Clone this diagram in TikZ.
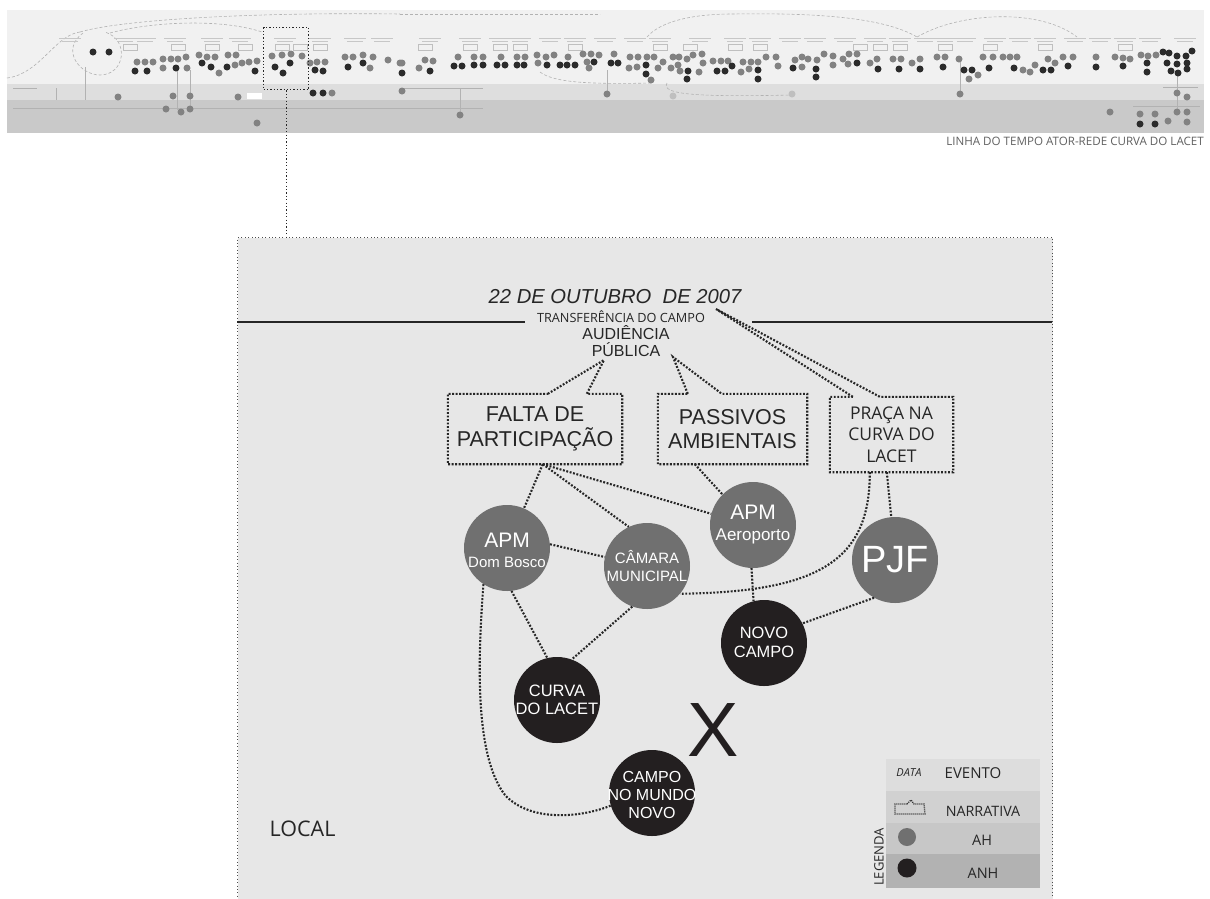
\documentclass[tikz,border=0pt]{standalone}
\usepackage{fontspec}
\setmainfont{Liberation Sans}
\newfontfamily\segoe{Open Sans}
\definecolor{panelbg}{HTML}{E7E7E7}
\definecolor{ahgray}{HTML}{707070}
\definecolor{anhblack}{HTML}{231F20}
\definecolor{inkdark}{HTML}{262626}
\definecolor{bandA}{HTML}{F1F1F1}
\definecolor{bandB}{HTML}{DEDEDE}
\definecolor{bandC}{HTML}{C9C9C9}
\definecolor{miniah}{HTML}{828282}
\definecolor{minianh}{HTML}{2B2B2B}
\definecolor{legA}{HTML}{DDDDDD}
\definecolor{legB}{HTML}{D1D1D1}
\definecolor{legC}{HTML}{C7C7C7}
\definecolor{legD}{HTML}{B2B2B2}
\tikzset{
  ah/.style={circle, fill=ahgray, minimum size=86pt, inner sep=0pt},
  anh/.style={circle, fill=anhblack, minimum size=86pt, inner sep=0pt},
  incircle/.style={text=white, align=center, inner sep=0pt},
  link/.style={draw=inkdark, line width=2.1pt, dash pattern=on 1.9pt off 1.6pt},
  narr/.style={draw=inkdark, line width=2.1pt, dash pattern=on 1.9pt off 1.6pt, line join=miter},
  narrbox/.style={draw=none, inner sep=0pt, align=center, text=inkdark},
  rulebar/.style={draw=inkdark, line width=2pt},
  thinlink/.style={draw=inkdark, line width=1.2pt, dash pattern=on 1.2pt off 2.2pt},
  legrow/.style={draw=none, inner sep=0pt, minimum width=154pt},
  minicurve/.style={draw=black!30, line width=0.6pt, dash pattern=on 3pt off 2pt},
  minitext/.style={draw=black!22, line width=0.6pt},
  minibox/.style={draw=black!25, line width=0.5pt},
  miniline/.style={draw=black!30, line width=0.5pt},
}
\begin{document}
\begin{tikzpicture}[x=1pt, y=-1pt]
\useasboundingbox (0,0) rectangle (1210,898);
\fill[white] (0,0) rectangle (1210,898);

% ---------- overview strip of the whole timeline ----------
\fill[bandA] (7,10) rectangle (1204,84);
\fill[bandB] (7,84) rectangle (1204,100);
\fill[bandC] (7,100) rectangle (1204,133);

% thin guide lines in the lower bands
\draw[miniline] (13,88) -- (37,88);
\draw[miniline] (13,108) -- (483,108);
\draw[miniline] (400,88) -- (483,88);
\draw[miniline] (1163,87) -- (1198,87);
\draw[miniline] (1133,106) -- (1200,106);
\draw[miniline] (85,67) -- (85,100);
\draw[miniline] (56,88) -- (56,100);
\draw[miniline] (177,70) -- (177,110);
\draw[miniline] (190,70) -- (190,108);
\draw[miniline] (460,88) -- (460,115);
\draw[miniline] (607,70) -- (607,94);
\draw[miniline] (960,60) -- (960,94);
\draw[miniline] (1177,75) -- (1177,112);
\fill[white] (247,93) rectangle (262,99);

% faint dashed links across the strip
\draw[minicurve] (7,78) .. controls (40,74) and (55,35) .. (80,32);
\draw[minicurve] (80,32) .. controls (120,20) and (250,12) .. (400,14);
\draw[minicurve] (83,33) .. controls (60,50) and (80,75) .. (100,75) .. controls (125,75) and (130,40) .. (105,32);
\draw[minicurve] (110,33) .. controls (150,22) and (220,18) .. (262,32);
\draw[minicurve] (647,37) .. controls (660,22) and (690,14) .. (733,14) .. controls (800,13) and (880,15) .. (917,37);
\draw[minicurve] (917,37) .. controls (960,12) and (1040,8) .. (1077,37);
\draw[minicurve] (540,72) .. controls (555,84) and (600,84) .. (653,83);
\draw[minicurve] (667,83) .. controls (660,95) and (700,97) .. (792,95);
\draw[minicurve] (400,14) -- (600,14);

% headings above the event clusters
\foreach \cx in {70,125,145,175,212,240,285,320,355,382,430,470,500,520,550,575,605,635,660,700,735,760,790,815,845,875,900,925,945,965,995,1020,1045,1075,1100,1125,1150,1185}{
  \draw[minitext] (\cx-11,38) -- (\cx+11,38);
  \draw[minitext] (\cx-8,41.5) -- (\cx+8,41.5);
}
\foreach \cx in {130,178,212,245,282,300,320,425,470,500,520,575,660,690,735,760,860,880,900,945,990,1045,1125}{
  \draw[minibox] (\cx-7,44) rectangle (\cx+7,50);
}

% human actors (grey) and non-human actors (black) of the strip
\foreach \px/\py in {137/62,145/62,153/62,163/59,171/59,178/59,186/57,163/68,187/68,199/55,207/57,215/57,228/55,236/55,219/73,235/65,242/63,249/62,257/61,
272/56,282/55,291/54,302/56,310/63,317/62,325/62,332/93,
345/57,353/57,363/55,373/57,370/68,388/60,400/63,
118/97,173/96,190/96,166/109,181/112,190/109,238/97,257/123,
402/63,425/60,433/61,419/68,458/57,474/57,483/57,501/57,517/57,525/57,537/55,546/57,554/55,538/63,568/57,583/54,591/54,599/55,587/62,589/68,614/54,630/57,638/57,647/57,654/57,629/68,637/67,651/80,658/68,663/62,673/57,679/57,687/59,693/55,702/54,671/68,678/65,680/71,699/72,703/63,713/61,721/61,728/61,743/62,751/62,758/62,766/57,741/72,749/69,776/57,778/66,795/60,
607/94,460/115,402/91,
802/57,802/67,808/59,817/60,824/54,833/56,833/65,843/59,849/54,857/54,848/64,870/63,877/59,893/59,901/59,912/63,920/59,937/57,945/57,959/59,969/79,978/75,983/57,993/57,1003/57,1010/57,1017/57,1023/70,1030/72,1035/65,1048/59,1055/63,1063/57,1073/57,1096/57,1115/57,1123/58,1130/59,1141/55,1148/56,1156/55,
960/94,1110/112,1177/93,1187/97,1140/114,1155/114,1177/112,1187/112,1168/121,1187/122}{
  \fill[miniah] (\px,\py) circle[radius=3.5pt];
}
\foreach \px/\py in {673/96,792/94}{
  \fill[black!25] (\px,\py) circle[radius=3.5pt];
}
\foreach \px/\py in {93/52,109/52,135/71,147/71,176/68,202/63,211/67,227/67,255/71,
290/63,275/67,283/73,315/70,323/71,313/93,323/93,348/67,363/63,
402/73,430/71,454/66,462/66,474/65,483/65,497/65,505/65,517/65,524/65,547/65,560/65,567/65,575/65,594/62,611/63,618/63,646/65,646/74,688/71,687/79,717/71,725/71,732/66,758/70,758/79,793/68,
816/69,816/77,857/63,878/69,899/69,920/69,943/67,964/70,972/70,989/68,1014/68,1043/70,1051/70,1068/66,1096/67,1123/66,1147/63,1147/72,1163/52,1169/53,1177/56,1186/56,1192/51,1167/63,1177/64,1187/63,1171/71,1178/73,1187/69,
1140/124,1155/124}{
  \fill[minianh] (\px,\py) circle[radius=3.5pt];
}

% frame around the event that is enlarged below
\node[draw=inkdark, line width=1.4pt, dash pattern=on 1.3pt off 2pt, minimum width=45pt, minimum height=62pt, inner sep=0pt, anchor=north west] (stripbox) at (263,27) {};

\node[font=\segoe\fontsize{11.6}{12}\selectfont, text=black!62, anchor=east, inner sep=0pt] (title) at (1204,141) {LINHA DO TEMPO ATOR-REDE CURVA DO LACET};

% ---------- enlarged event panel ----------
\node[fill=panelbg, draw=black!70, line width=1pt, dash pattern=on 1pt off 2.4pt, minimum width=815pt, minimum height=680pt, inner sep=0pt, anchor=north west] (panel) at (237,237) {};
\draw[thinlink] (stripbox.south) -- (stripbox.south |- panel.north);

% date and event
\node[font=\fontsize{20.2}{22}\selectfont\itshape, text=inkdark, inner sep=0pt] (date) at (615,297) {22 DE OUTUBRO~ DE 2007};
\draw[rulebar] (237,322) -- (525,322);
\draw[rulebar] (752,322) -- (1052,322);
\node[font=\segoe\fontsize{12.7}{14}\selectfont, text=inkdark, inner sep=0pt] (transf) at (621,317) {TRANSFERÊNCIA DO CAMPO};
\node[font=\fontsize{16}{17}\selectfont, text=inkdark, align=center, inner sep=0pt] (aud) at (626,341.5) {AUDIÊNCIA\\PÚBLICA};

% narratives
\coordinate (tfalta) at (604,360);
\coordinate (tpass) at (673,357);
\coordinate (tpraca) at (716,309);

\node[narrbox, font=\fontsize{21.5}{25}\selectfont, minimum width=174pt, minimum height=70pt] (falta) at (535,429) {FALTA DE\\PARTICIPAÇÃO};
\draw[narr] ([xshift=100pt]falta.north west) -- (tfalta) -- ([xshift=139pt]falta.north west) -- (falta.north east) -- (falta.south east) -- (falta.south west) -- (falta.north west) -- cycle;

\node[narrbox, font=\fontsize{21.5}{24}\selectfont, minimum width=149pt, minimum height=70pt] (pass) at (732.5,429) {PASSIVOS\\AMBIENTAIS};
\draw[narr] ([xshift=30pt]pass.north west) -- (tpass) -- ([xshift=64pt]pass.north west) -- (pass.north east) -- (pass.south east) -- (pass.south west) -- (pass.north west) -- cycle;

\node[narrbox, font=\segoe\fontsize{17.5}{21.5}\selectfont, minimum width=123pt, minimum height=75pt] (praca) at (891.5,434.5) {PRAÇA NA\\CURVA DO\\LACET};
\draw[narr] ([xshift=23pt]praca.north west) -- (tpraca) -- ([xshift=50pt]praca.north west) -- (praca.north east) -- (praca.south east) -- (praca.south west) -- (praca.north west) -- cycle;

% actors
\node[ah] (db) at (507,548) {};
\node[incircle, font=\fontsize{21}{22}\selectfont] (db-a) at (507,540) {APM};
\node[incircle, font=\fontsize{15}{16}\selectfont] (db-b) at (507,562) {Dom Bosco};

\node[ah] (cm) at (647,566) {};
\node[incircle, font=\fontsize{15}{18}\selectfont] (cm-a) at (647,566) {CÂMARA\\MUNICIPAL};

\node[ah] (apa) at (753,525) {};
\node[incircle, font=\fontsize{21}{22}\selectfont] (apa-a) at (753,512) {APM};
\node[incircle, font=\fontsize{17}{18}\selectfont] (apa-b) at (753,536) {Aeroporto};

\node[ah] (pjf) at (895,560) {};
\node[incircle, font=\fontsize{38}{40}\selectfont] (pjf-a) at (895,560) {PJF};

\node[anh] (nc) at (764,643) {};
\node[incircle, font=\fontsize{16.4}{19}\selectfont] (nc-a) at (764,642.5) {NOVO\\CAMPO};

\node[anh] (cl) at (557,700) {};
\node[incircle, font=\fontsize{16.5}{18}\selectfont] (cl-a) at (557,700) {CURVA\\DO LACET};

\node[anh] (cmn) at (652,793) {};
\node[incircle, font=\fontsize{16}{18}\selectfont] (cmn-a) at (652,795) {CAMPO\\NO MUNDO\\NOVO};

\node[font=\fontsize{77}{77}\selectfont, text=anhblack, inner sep=0pt] (xmark) at (713,730) {X};

% associations
\draw[link] ([xshift=95pt]falta.south west) -- (db);
\draw[link] ([xshift=95pt]falta.south west) -- (cm.115);
\draw[link] ([xshift=95pt]falta.south west) -- (apa.165);
\draw[link] ([xshift=37pt]pass.south west) -- (apa.135);
\draw[link] ([xshift=57pt]praca.south west) -- (pjf.95);
\draw[link] ([xshift=40pt]praca.south west) .. controls (870,560) and (820,592) .. (cm.-40);
\draw[link] (db.5) -- (cm.168);
\draw[link] (apa.268) -- (nc.104);
\draw[link] (pjf.241) -- (nc.27);
\draw[link] (cm.-110) -- (cl.70);
\draw[link] (db.-84) -- (cl.103);
\draw[link] (db.237) .. controls (476,680) and (478,760) .. (505,795) .. controls (530,822) and (580,818) .. (cmn.197);

\node[font=\segoe\fontsize{21.5}{22}\selectfont, text=inkdark, inner sep=0pt] (local) at (302.5,829) {LOCAL};

% legend
\node[legrow, fill=legA, minimum height=32pt] (row1) at (963,775) {};
\node[legrow, fill=legB, minimum height=32pt] (row2) at (963,807) {};
\node[legrow, fill=legC, minimum height=31pt] (row3) at (963,838.5) {};
\node[legrow, fill=legD, minimum height=34pt] (row4) at (963,871) {};
\node[font=\segoe\fontsize{11}{12}\selectfont\itshape, text=inkdark, inner sep=0pt] (ldata) at (909,773) {DATA};
\node[font=\segoe\fontsize{15}{16}\selectfont, text=inkdark, inner sep=0pt] (levento) at (973,773) {EVENTO};
\node[font=\segoe\fontsize{14.3}{15}\selectfont, text=inkdark, inner sep=0pt] (lnarr) at (983,811) {NARRATIVA};
\node[font=\segoe\fontsize{14.5}{15}\selectfont, text=inkdark, inner sep=0pt] (lah) at (982,840) {AH};
\node[font=\segoe\fontsize{14.5}{15}\selectfont, text=inkdark, inner sep=0pt] (lanh) at (983,873) {ANH};
\node[circle, fill=ahgray, minimum size=18pt, inner sep=0pt] (lahdot) at (907,837) {};
\node[circle, fill=anhblack, minimum size=19pt, inner sep=0pt] (lanhdot) at (907,868) {};
\draw[draw=inkdark, line width=1.3pt, dash pattern=on 1pt off 1pt] (907,804) -- (911,800) -- (914,804) -- (924,804) -- (925,814) -- (895,814) -- (895,804) -- cycle;
\node[rotate=90, font=\segoe\fontsize{13}{13}\selectfont, text=inkdark, inner sep=0pt] (legenda) at (879,857) {LEGENDA};
\end{tikzpicture}
\end{document}
